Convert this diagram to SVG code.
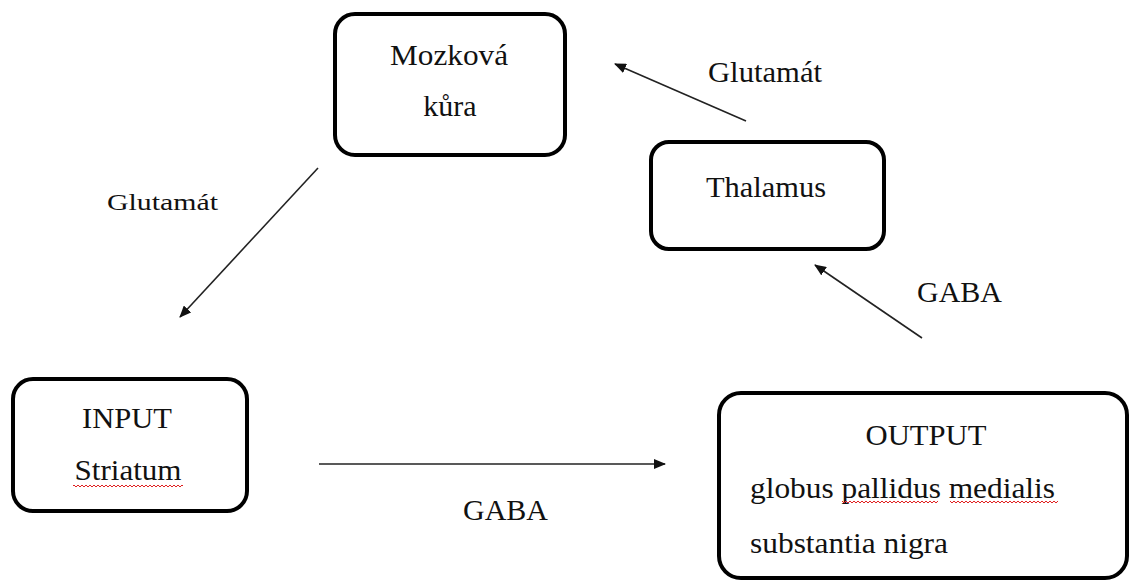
<svg xmlns="http://www.w3.org/2000/svg" width="1130" height="582" viewBox="0 0 1130 582">
<style>
.box{fill:#fff;stroke:#000;stroke-width:4}
.t{font-family:'Liberation Serif',Tinos,'Times New Roman',Times,'DejaVu Serif','Noto Serif',FreeSerif,serif;font-size:30px;fill:#111}
.c{text-anchor:middle}
.edge{stroke:#222;stroke-width:1.6;fill:none;marker-end:url(#ah)}
</style>
<defs>
<marker id="ah" viewBox="0 0 12 10" refX="11" refY="5" markerWidth="12" markerHeight="10" markerUnits="userSpaceOnUse" orient="auto">
<path d="M0,0 L12,5 L0,10 Z" fill="#111"/>
</marker>
<pattern id="wavy" width="4" height="4" patternUnits="userSpaceOnUse">
<path d="M0,3 L2,1 L4,3" stroke="#e02020" stroke-width="1" fill="none"/>
</pattern>
</defs>
<rect width="1130" height="582" fill="#fff"/>
<g id="connectors">
<line class="edge" x1="318" y1="168" x2="180" y2="317"/>
<line class="edge" x1="746" y1="121" x2="615" y2="64"/>
<line class="edge" x1="922" y1="338" x2="815" y2="265"/>
<line class="edge" x1="319" y1="464" x2="665" y2="464"/>
<text class="t" x="708" y="82" textLength="114" lengthAdjust="spacingAndGlyphs">Glutamát</text>
<text class="t" x="107" y="210" style="font-size:23px" textLength="111" lengthAdjust="spacingAndGlyphs">Glutamát</text>
<text class="t" x="917" y="302" textLength="85" lengthAdjust="spacingAndGlyphs">GABA</text>
<text class="t" x="463" y="520" textLength="85" lengthAdjust="spacingAndGlyphs">GABA</text>
</g>
<g id="node-mozkova">
<rect class="box" x="335" y="14" width="230" height="141" rx="20"/>
<text class="t c" x="449" y="65" textLength="118" lengthAdjust="spacingAndGlyphs">Mozková</text>
<text class="t c" x="450" y="116">kůra</text>
</g>
<g id="node-thalamus">
<rect class="box" x="651" y="142" width="233" height="107" rx="18"/>
<text class="t c" x="766" y="197" textLength="120" lengthAdjust="spacingAndGlyphs">Thalamus</text>
</g>
<g id="node-input">
<rect class="box" x="13" y="379" width="234" height="132" rx="20"/>
<text class="t c" x="127" y="428" textLength="90" lengthAdjust="spacingAndGlyphs">INPUT</text>
<text class="t c" x="128" y="480" textLength="107" lengthAdjust="spacingAndGlyphs">Striatum</text>
<rect x="73" y="483" width="110" height="4" fill="url(#wavy)"/>
</g>
<g id="node-output">
<rect class="box" x="719" y="393" width="408" height="185" rx="22"/>
<text class="t c" x="926" y="445" textLength="121" lengthAdjust="spacingAndGlyphs">OUTPUT</text>
<text class="t" x="750" y="498" textLength="305" lengthAdjust="spacingAndGlyphs">globus pallidus medialis</text>
<text class="t" x="750" y="553" textLength="198" lengthAdjust="spacingAndGlyphs">substantia nigra</text>
<rect x="842" y="501" width="96" height="4" fill="url(#wavy)"/>
<rect x="950" y="501" width="108" height="4" fill="url(#wavy)"/>
</g>
</svg>
